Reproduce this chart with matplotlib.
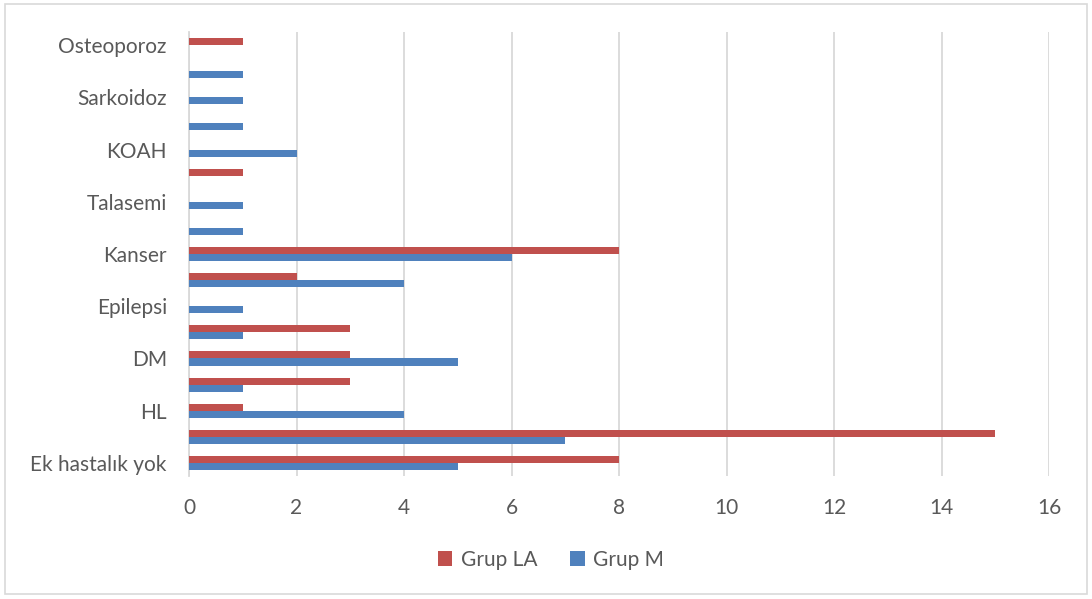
import matplotlib.pyplot as plt
import numpy as np
from matplotlib.patches import Rectangle

# categories listed bottom to top; every other label is left blank on the axis
categories = ['Ek hastalık yok', '', 'HL', '', 'DM', '', 'Epilepsi', '', 'Kanser', '',
              'Talasemi', '', 'KOAH', '', 'Sarkoidoz', '', 'Osteoporoz']
grup_la = [8, 15, 1, 3, 3, 3, 0, 2, 8, 0, 0, 1, 0, 0, 0, 0, 1]
grup_m = [5, 7, 4, 1, 5, 1, 1, 4, 6, 1, 1, 0, 2, 1, 1, 1, 0]
x_ticks = [0, 2, 4, 6, 8, 10, 12, 14, 16]

red = '#C0504D'
blue = '#4F81BD'
text_col = '#595959'

plt.rcParams['font.family'] = ['Lato', 'DejaVu Sans']

fig = plt.figure(figsize=(10.92, 5.99), dpi=100)
ax = fig.add_axes([189 / 1092, 1 - 476 / 599, (1049 - 189) / 1092, (476 - 32) / 599])

y = np.arange(len(categories))
h = 0.27
ax.barh(y + h / 2, grup_la, height=h, color=red, label='Grup LA', zorder=3)
ax.barh(y - h / 2, grup_m, height=h, color=blue, label='Grup M', zorder=3)

ax.set_ylim(-0.5, len(categories) - 0.5)
ax.set_xlim(0, 16)
ax.set_xticks(x_ticks)
ax.set_yticks(y)
ax.set_yticklabels(categories)
ax.tick_params(axis='both', length=0, labelsize=15, colors=text_col)
ax.tick_params(axis='y', pad=16)
ax.tick_params(axis='x', pad=16)
ax.grid(axis='x', color='#D9D9D9', linewidth=1.3, zorder=0)
for side in ['top', 'right', 'bottom']:
    ax.spines[side].set_visible(False)
ax.spines['left'].set_color('#D9D9D9')
ax.spines['left'].set_linewidth(1.3)

leg = fig.legend(loc='center', bbox_to_anchor=(551 / 1092, 1 - 560 / 599), ncol=2,
                 frameon=False, fontsize=15, handlelength=0.7, handleheight=0.7,
                 handletextpad=0.4, columnspacing=1.6)
for t in leg.get_texts():
    t.set_color(text_col)

fig.patches.append(Rectangle((5 / 1092, 5 / 599), 1082 / 1092, 590 / 599,
                             transform=fig.transFigure, fill=False,
                             edgecolor='#D9D9D9', linewidth=1.2))

fig.savefig('out.png', dpi=100)
